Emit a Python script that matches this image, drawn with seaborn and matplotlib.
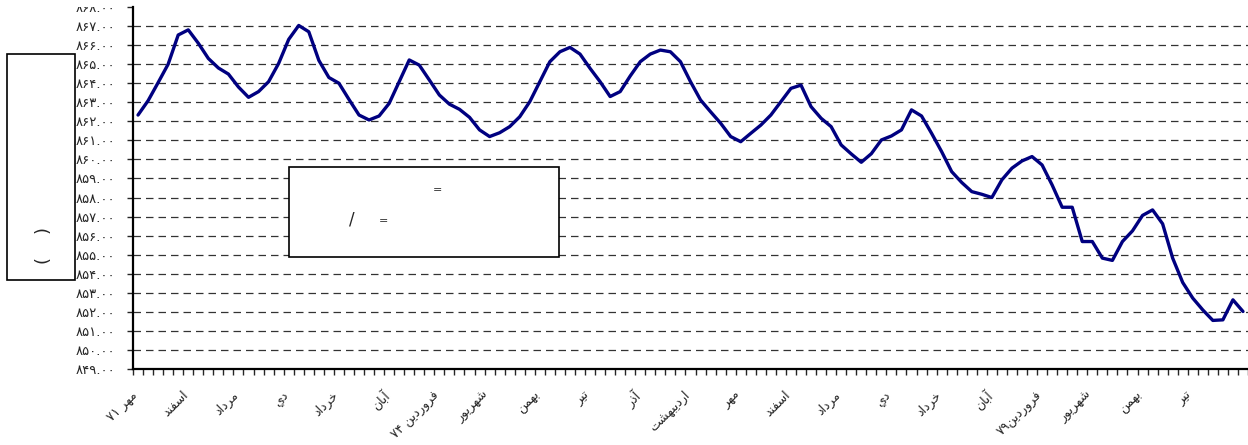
import matplotlib
matplotlib.use("Agg")
import numpy as np
import pandas as pd
import matplotlib.pyplot as plt
from matplotlib.patches import Rectangle
from matplotlib.transforms import Bbox, TransformedBbox, ScaledTranslation
import seaborn as sns

# monthly values starting at mehr 71
values = [862.33, 863.08, 864.03, 865.00, 866.53, 866.80, 866.10, 865.30, 864.80, 864.48,
          863.80, 863.26, 863.56, 864.08, 865.04, 866.30, 867.03, 866.70, 865.20, 864.30,
          864.00, 863.15, 862.33, 862.07, 862.28, 862.94, 864.08, 865.22, 864.95, 864.17,
          863.38, 862.90, 862.63, 862.21, 861.55, 861.20, 861.40, 861.72, 862.24, 863.03,
          864.08, 865.13, 865.65, 865.88, 865.53, 864.78, 864.08, 863.30, 863.56, 864.38,
          865.13, 865.53, 865.74, 865.65, 865.13, 864.08, 863.12, 862.50, 861.90, 861.20,
          860.93, 861.37, 861.80, 862.33, 863.03, 863.73, 863.90, 862.77, 862.16, 861.72,
          860.76, 860.29, 859.85, 860.30, 861.02, 861.23, 861.55, 862.60, 862.28, 861.37,
          860.41, 859.36, 858.79, 858.31, 858.17, 858.00, 858.93, 859.54, 859.92, 860.15,
          859.71, 858.66, 857.49, 857.49, 855.69, 855.69, 854.82, 854.70, 855.69, 856.25,
          857.06, 857.35, 856.62, 854.82, 853.54, 852.72, 852.10, 851.55, 851.58, 852.63,
          852.02]

month_labels = ["مهر ۷۱", "اسفند", "مرداد", "دي", "خرداد", "آبان", "فروردين ۷۴",
                "شهريور", "بهمن", "تير", "آذر", "ارديبهشت", "مهر", "اسفند", "مرداد",
                "دي", "خرداد", "آبان", "فروردين۷۹", "شهريور", "بهمن", "تير"]
label_step = 5
y_ticks = list(range(849, 869))

# arabic presentation forms: isolated, final, initial, medial
FORMS = {
    "ا": ("\uFE8D", "\uFE8E", None, None),
    "آ": ("\uFE81", "\uFE82", None, None),
    "ب": ("\uFE8F", "\uFE90", "\uFE91", "\uFE92"),
    "ت": ("\uFE95", "\uFE96", "\uFE97", "\uFE98"),
    "خ": ("\uFEA5", "\uFEA6", "\uFEA7", "\uFEA8"),
    "د": ("\uFEA9", "\uFEAA", None, None),
    "ذ": ("\uFEAB", "\uFEAC", None, None),
    "ر": ("\uFEAD", "\uFEAE", None, None),
    "س": ("\uFEB1", "\uFEB2", "\uFEB3", "\uFEB4"),
    "ش": ("\uFEB5", "\uFEB6", "\uFEB7", "\uFEB8"),
    "ف": ("\uFED1", "\uFED2", "\uFED3", "\uFED4"),
    "م": ("\uFEE1", "\uFEE2", "\uFEE3", "\uFEE4"),
    "ن": ("\uFEE5", "\uFEE6", "\uFEE7", "\uFEE8"),
    "ه": ("\uFEE9", "\uFEEA", "\uFEEB", "\uFEEC"),
    "و": ("\uFEED", "\uFEEE", None, None),
    "ي": ("\uFEF1", "\uFEF2", "\uFEF3", "\uFEF4"),
}
DIGITS = "۰۱۲۳۴۵۶۷۸۹"


def shape_rtl(s):
    out = []
    for i, c in enumerate(s):
        if c not in FORMS:
            out.append(c)
            continue
        prev = s[i - 1] if i > 0 else ""
        nxt = s[i + 1] if i + 1 < len(s) else ""
        joins_prev = prev in FORMS and FORMS[prev][2] is not None
        joins_next = nxt in FORMS and FORMS[c][2] is not None
        iso, fin, ini, med = FORMS[c]
        if joins_prev and joins_next:
            out.append(med)
        elif joins_prev:
            out.append(fin)
        elif joins_next:
            out.append(ini)
        else:
            out.append(iso)
    # visual order: reverse everything, then put digit runs back
    vis = "".join(out)[::-1]
    res, run = "", ""
    for c in vis:
        if c in DIGITS:
            run += c
        else:
            res += run[::-1] + c
            run = ""
    return res + run[::-1]


def fa_num(v):
    return ("%.2f" % v).translate(str.maketrans("0123456789", DIGITS))


sns.set_style("white")
plt.rcParams["font.family"] = ["DejaVu Sans"]

df = pd.DataFrame({"month": np.arange(len(values)), "value": values})

fig = plt.figure(figsize=(12.48, 4.45), dpi=100)
ax = fig.add_axes([133 / 1248, 1 - 369 / 445, 1115 / 1248, 362 / 445])

for y in y_ticks[1:-1]:
    ax.axhline(y, color="#333333", lw=0.9, ls=(0, (6, 4)), zorder=1)

sns.lineplot(data=df, x="month", y="value", color="#000080", lw=2.4, ax=ax, zorder=3)

ax.set_xlim(-0.5, len(values) - 0.5)
ax.set_ylim(849, 868)
ax.set_yticks(y_ticks)
ax.set_yticklabels([fa_num(v) for v in y_ticks], fontsize=9.5)
ax.set_xticks(np.arange(-0.5, len(values), 1))
ax.set_xticklabels([])
ax.set_xticks(np.arange(0, len(values), label_step)[:len(month_labels)], minor=True)
ax.set_xticklabels([shape_rtl(m) for m in month_labels], minor=True, fontsize=9,
                   rotation=45, ha="right", rotation_mode="anchor")
ax.tick_params(axis="x", which="major", length=4, width=1, direction="out", bottom=True)
ax.tick_params(axis="x", which="minor", length=0, pad=14)
ax.tick_params(axis="y", length=4, width=1, direction="out", left=True, pad=9)
ax.set_xlabel("")
ax.set_ylabel("")
for side in ["top", "right"]:
    ax.spines[side].set_visible(False)
for side in ["left", "bottom"]:
    ax.spines[side].set_color("black")
    ax.spines[side].set_linewidth(1.6)

# nudge month labels a little left, like the original
shift = ScaledTranslation(-7 / 100, 0, fig.dpi_scale_trans)
for lab in ax.get_xticklabels(minor=True):
    lab.set_transform(lab.get_transform() + shift)

# top tick label is cut by the chart edge in the original
top_lab = ax.get_yticklabels()[-1]
top_lab.set_clip_on(True)
top_lab.set_clip_box(TransformedBbox(Bbox([[0, 0], [1, 1 - 7 / 445]]), fig.transFigure))

# annotation boxes whose text did not survive, only signs remain
fig.add_artist(Rectangle((289 / 1248, 1 - 257 / 445), 270 / 1248, 90 / 445,
                         transform=fig.transFigure, facecolor="white",
                         edgecolor="black", lw=1.2, zorder=5))
fig.text(437 / 1248, 1 - 190 / 445, "=", fontsize=8, ha="center", va="center", zorder=6)
fig.text(383 / 1248, 1 - 221 / 445, "=", fontsize=8, ha="center", va="center", zorder=6)
fig.text(352 / 1248, 1 - 219 / 445, "/", fontsize=12, ha="center", va="center", zorder=6)

fig.add_artist(Rectangle((7 / 1248, 1 - 280 / 445), 68 / 1248, 226 / 445,
                         transform=fig.transFigure, facecolor="white",
                         edgecolor="black", lw=1.2, zorder=5))
fig.text(44 / 1248, 1 - 246 / 445, "(    )", fontsize=13, rotation=90,
         ha="center", va="center", zorder=6)

fig.savefig("out.png", dpi=100)
